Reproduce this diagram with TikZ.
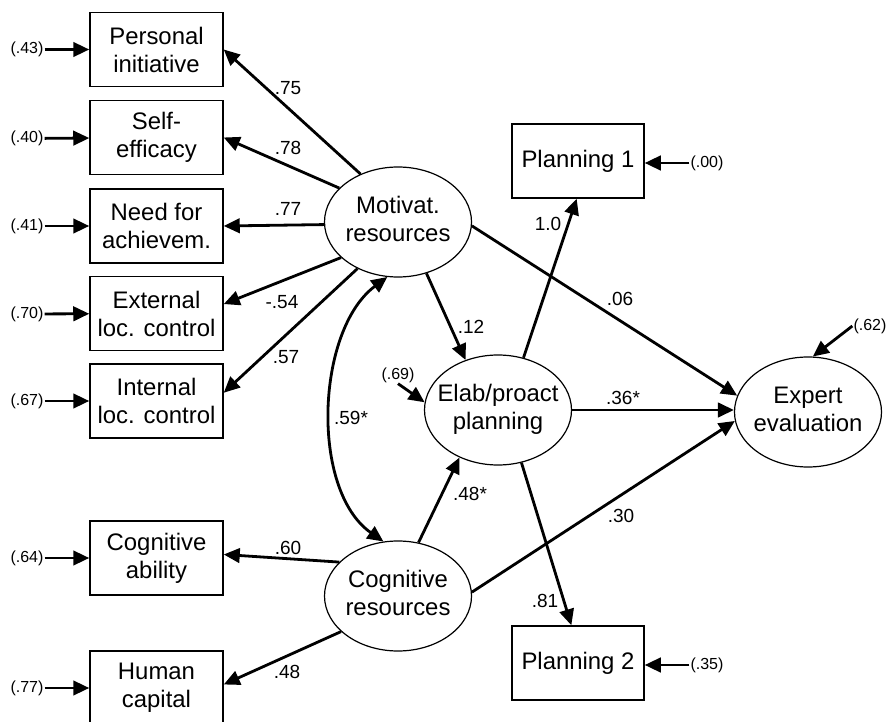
\documentclass[tikz,border=0pt]{standalone}
\usepackage{fontspec}
\setmainfont{Liberation Sans}
\usetikzlibrary{arrows.meta,shapes.geometric}
\begin{document}
\begin{tikzpicture}[x=1pt,y=-1pt,
 obs/.style={draw,line width=1.5pt,minimum width=133pt,minimum height=74pt,align=center,font=\fontsize{23.9}{28}\selectfont,inner sep=0pt},
 lat/.style={draw,ellipse,line width=1.2pt,minimum width=147pt,minimum height=110pt,font=\fontsize{23.9}{28}\selectfont,inner sep=0pt},
 res/.style={font=\fontsize{16}{18}\selectfont,inner sep=1pt},
 coef/.style={font=\fontsize{19}{21}\selectfont,inner sep=0pt},
 tip/.tip={Triangle[length=16pt,width=14.5pt]},
 arr/.style={line width=2.8pt,-tip},
 ]
\useasboundingbox (0,0) rectangle (887,722);
% observed indicators
\node[obs] (pi)  at (156.5,49.5) {Personal\\initiative};
\node[obs] (se)  at (156.5,137.5) {Self-\\efficacy};
\node[obs] (na)  at (156.5,226) {Need for\\achievem.};
\node[obs] (ext) at (156.5,313.5) {External\\loc. control};
\node[obs] (int) at (156.5,401) {Internal\\loc. control};
\node[obs] (ca)  at (156.5,558) {Cognitive\\ability};
\node[obs] (hc)  at (156.5,688) {Human\\capital};
\node[obs,minimum width=132pt] (p1) at (578,161) {Planning 1};
\node[obs,minimum width=132pt] (p2) at (578,663) {Planning 2};
% latent variables
\node[lat] (mot) at (398,222) {\makebox[0pt]{\begin{tabular}{@{}c@{}}Motivat.\\resources\end{tabular}}};
\node[lat] (cog) at (398,596) {\makebox[0pt]{\begin{tabular}{@{}c@{}}Cognitive\\resources\end{tabular}}};
\node[lat] (el)  at (498,410) {\makebox[0pt]{\begin{tabular}{@{}c@{}}Elab/proact\\planning\end{tabular}}};
\node[lat] (ex)  at (808,412) {\makebox[0pt]{\begin{tabular}{@{}c@{}}Expert\\evaluation\end{tabular}}};
% residual labels
\node[res] (r1) at (27,49.5) {(.43)};
\node[res] (r2) at (27,138.5) {(.40)};
\node[res] (r3) at (27,226) {(.41)};
\node[res] (r4) at (27,314) {(.70)};
\node[res] (r5) at (27,401) {(.67)};
\node[res] (r6) at (27,558) {(.64)};
\node[res] (r7) at (27,688) {(.77)};
\node[res] (r00) at (707,163) {(.00)};
\node[res] (r35) at (707,665) {(.35)};
\node[res] (r62) at (870,326) {(.62)};
\node[res] (r69) at (398,375) {(.69)};
% residual arrows
\draw[arr] (r1) -- (pi);
\draw[arr] (r2) -- (se);
\draw[arr] (r3) -- (na);
\draw[arr] (r4) -- (ext);
\draw[arr] (r5) -- (int);
\draw[arr] (r6) -- (ca);
\draw[arr] (r7) -- (hc);
\draw[arr] (r00.west) -- (r00.west -| p1.east);
\draw[arr] (r35.west) -- (r35.west -| p2.east);
\draw[arr] (r62.west) -- (ex.85);
\draw[arr] (r69.south) -- (el.174);
% loadings
\draw[arr] (mot.128) -- (pi.east);
\draw[arr] (mot.150) -- (se.east);
\draw[arr] (mot.182) -- (na.east);
\draw[arr] (mot.212) -- (ext.8);
\draw[arr] (mot.229) -- (int.7);
\draw[arr] (cog.150) -- (ca.3);
\draw[arr] (cog.212) -- (hc.3);
\draw[arr] (el.64) -- (p1.268);
\draw[arr] (el.294) -- (p2.100);
% structural paths
\draw[line width=2.8pt,tip-tip] (mot.259) .. controls (316,330) and (310,490) .. (cog.105);
\draw[arr] (mot.299) -- (el.123);
\draw[arr] (mot.357) -- (ex.167);
\draw[arr] (el.east) -- (el.east -| ex.west);
\draw[arr] (cog.3) -- (ex.187);
\draw[arr] (cog.69) -- (el.231);
% coefficients
\node[coef] (c1) at (288,88) {.75};
\node[coef] (c2) at (288,148) {.78};
\node[coef] (c3) at (288,209) {.77};
\node[coef] (c4) at (282,302) {-.54};
\node[coef] (c5) at (286,357) {.57};
\node[coef] (c6) at (288,548) {.60};
\node[coef] (c7) at (287,672) {.48};
\node[coef] (c8) at (351,418) {.59*};
\node[coef] (c9) at (471,327) {.12};
\node[coef] (c10) at (548,224) {1.0};
\node[coef] (c11) at (620,299) {.06};
\node[coef] (c12) at (623,398) {.36*};
\node[coef] (c13) at (470,494) {.48*};
\node[coef] (c14) at (621,516) {.30};
\node[coef] (c15) at (545,601) {.81};
\end{tikzpicture}
\end{document}
